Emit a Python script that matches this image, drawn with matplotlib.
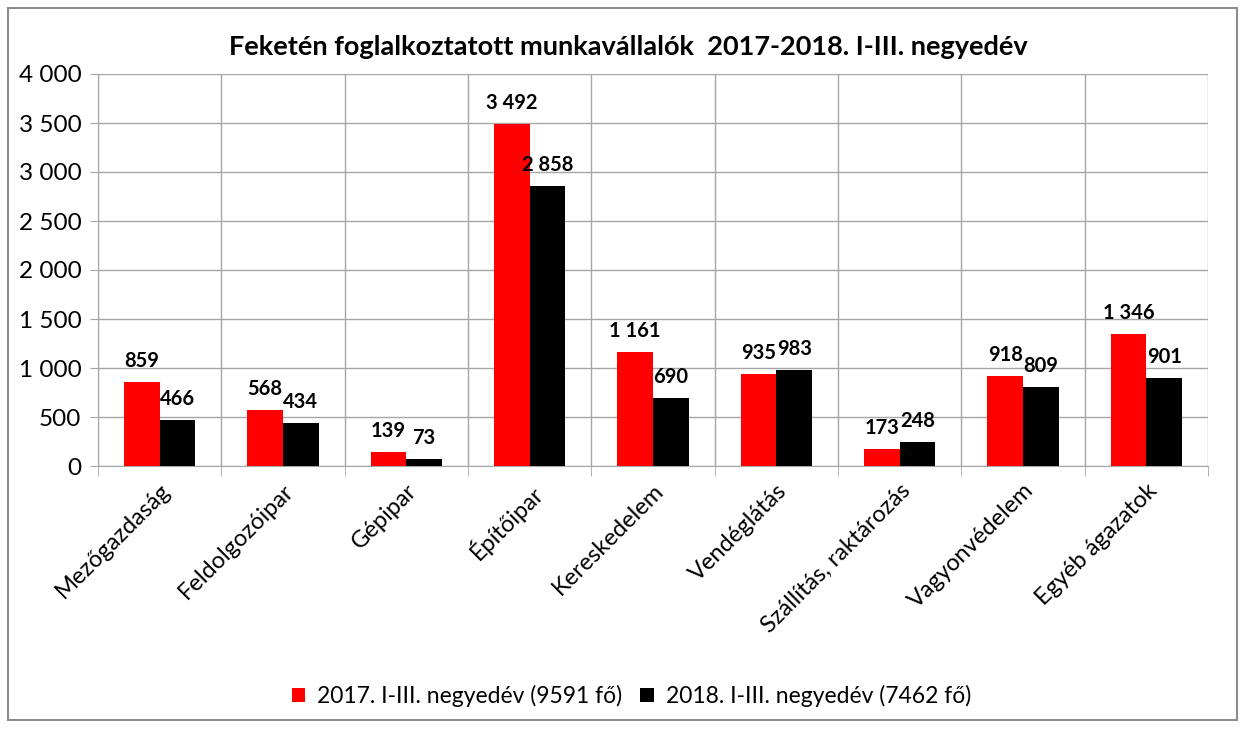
import matplotlib
matplotlib.use('Agg')
import matplotlib.pyplot as plt
from matplotlib.patches import Rectangle
from matplotlib.ticker import FuncFormatter
import numpy as np

plt.rcParams['font.family'] = ['Lato', 'DejaVu Sans']

# Data
categories = ['Mezőgazdaság', 'Feldolgozóipar', 'Gépipar', 'Építőipar',
              'Kereskedelem', 'Vendéglátás', 'Szállítás, raktározás',
              'Vagyonvédelem', 'Egyéb ágazatok']
values_2017 = [859, 568, 139, 3492, 1161, 935, 173, 918, 1346]
values_2018 = [466, 434, 73, 2858, 690, 983, 248, 809, 901]
label_2017 = '2017. I-III. negyedév (9591 fő)'
label_2018 = '2018. I-III. negyedév (7462 fő)'
title = 'Feketén foglalkoztatott munkavállalók  2017-2018. I-III. negyedév'


def thousands(v, pos=None):
    return '{:,.0f}'.format(v).replace(',', ' ')


fig = plt.figure(figsize=(12.45, 7.29), dpi=100)
# outer chart border
fig.patches.append(Rectangle((8 / 1245, 9 / 729), 1229 / 1245, 712 / 729,
                             transform=fig.transFigure, fill=False,
                             edgecolor='#8c8c8c', linewidth=1.5))

ax = fig.add_axes([98 / 1245, 1 - 466 / 729, 1110 / 1245, 392 / 729])

x = np.arange(len(categories))
w = 0.29
bars_a = ax.bar(x - w / 2, values_2017, w, color='#ff0000', label=label_2017, zorder=3)
bars_b = ax.bar(x + w / 2, values_2018, w, color='#000000', label=label_2018, zorder=3)

for bars in (bars_a, bars_b):
    for b in bars:
        ax.annotate(thousands(b.get_height()),
                    (b.get_x() + b.get_width() / 2, b.get_height()),
                    xytext=(0, 8), textcoords='offset points',
                    ha='center', va='bottom', fontsize=14.5, fontweight='bold')

ax.set_xlim(-0.5, len(categories) - 0.5)
ax.set_ylim(0, 4000)
ax.set_yticks(np.arange(0, 4001, 500))
ax.yaxis.set_major_formatter(FuncFormatter(thousands))

# category labels at centres, tick marks and grid at boundaries
ax.set_xticks(x)
ax.set_xticklabels(categories, rotation=45, ha='right', rotation_mode='anchor',
                   fontsize=17)
ax.tick_params(axis='x', length=0, pad=10)
ax.set_xticks(np.arange(-0.5, len(categories)), minor=True)
ax.tick_params(axis='x', which='minor', length=7, color='#a6a6a6')
ax.tick_params(axis='y', labelsize=17.5, length=6, color='#a6a6a6', pad=6)

ax.grid(axis='y', color='#a6a6a6', linewidth=1, zorder=0)
ax.grid(axis='x', which='minor', color='#a6a6a6', linewidth=1, zorder=0)
for s in ['top', 'right']:
    ax.spines[s].set_visible(False)
for s in ['left', 'bottom']:
    ax.spines[s].set_color('#a6a6a6')

fig.text(0.505, 1 - 47 / 729, title, ha='center', va='center',
         fontsize=19.5, fontweight='bold')

fig.legend(handles=[bars_a, bars_b], loc='center', ncol=2,
           bbox_to_anchor=(0.507, 1 - 696 / 729), frameon=False, fontsize=16.5,
           handlelength=0.6, handleheight=0.6, handletextpad=0.5, columnspacing=0.8)

fig.savefig('out.png', dpi=100)
